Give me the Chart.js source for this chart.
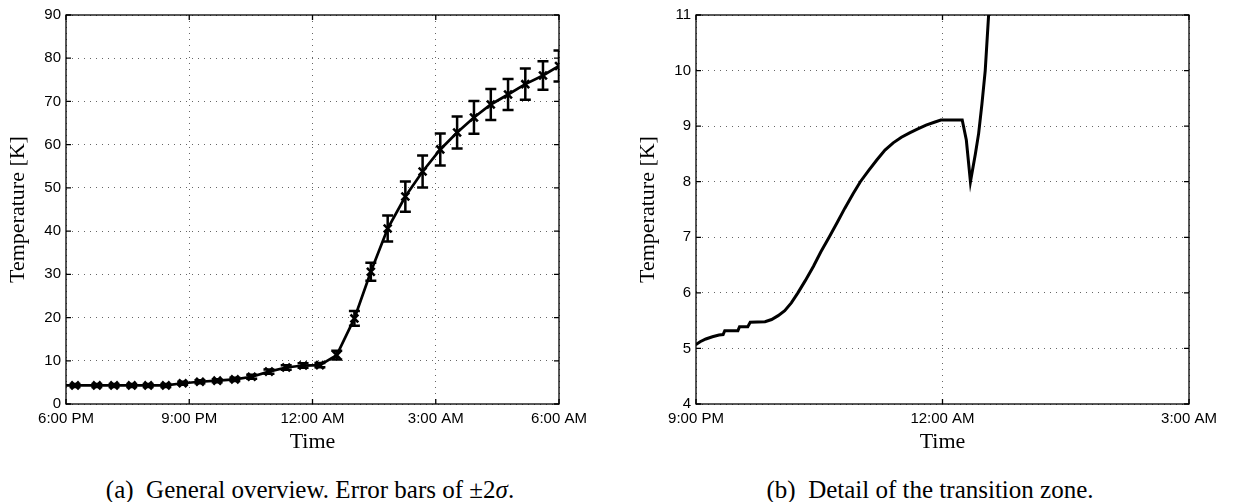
<!DOCTYPE html>
<html>
<head>
<meta charset="utf-8">
<script src="https://cdn.jsdelivr.net/npm/chart.js@4.4.1/dist/chart.umd.min.js"></script>
<style>
  html, body { margin: 0; padding: 0; background: #fff; width: 1234px; height: 502px; overflow: hidden; }
  .panel { position: absolute; top: 0; }
  .cap {
    position: absolute; top: 477px;
    font-family: "Liberation Serif", "Times New Roman", serif;
    font-size: 25px; line-height: 25px; white-space: pre; color: #000;
    transform: translateX(-50%);
  }
</style>
</head>
<body>
<canvas id="overview" class="panel" width="600" height="460" style="left:0;width:600px;height:460px"></canvas>
<canvas id="detail" class="panel" width="604" height="460" style="left:630px;width:604px;height:460px"></canvas>
<div class="cap" style="left:310px">(a)  General overview. Error bars of ±2<i>σ</i>.</div>
<div class="cap" style="left:930px">(b)  Detail of the transition zone.</div>
<script>
// ---- Overview: hours after 6:00 PM ----
const overviewTickLabels = ['6:00 PM', '9:00 PM', '12:00 AM', '3:00 AM', '6:00 AM'];
const sampleHours = [0.22, 0.75, 1.17, 1.6, 2.0, 2.43, 2.84, 3.26, 3.68, 4.11, 4.52, 4.94, 5.36, 5.77,
                     6.18, 6.59, 7.02, 7.42, 7.83, 8.26, 8.68, 9.11, 9.52, 9.93, 10.34, 10.76, 11.18, 11.61, 12.0];
const sampleTemps = [4.3, 4.3, 4.3, 4.3, 4.3, 4.3, 4.8, 5.15, 5.4, 5.7, 6.3, 7.5, 8.45, 8.9,
                     9.0, 11.3, 19.8, 30.6, 40.6, 48.0, 53.8, 58.9, 62.8, 66.3, 69.3, 71.6, 74.0, 76.0, 78.2];
// half-width of the ±2σ interval
const sampleErr   = [0.35, 0.35, 0.35, 0.35, 0.35, 0.35, 0.35, 0.35, 0.35, 0.4, 0.45, 0.5, 0.5, 0.5,
                     0.5, 1.0, 1.7, 2.1, 3.0, 3.5, 3.7, 3.7, 3.7, 3.8, 3.6, 3.6, 3.6, 3.3, 3.6];
const traceStartHour = 0;
const traceStartTemp = 4.3;

// ---- Detail: hours after 9:00 PM ----
const detailTickLabels = ['9:00 PM', '12:00 AM', '3:00 AM'];
const detailHours = [0.00, 0.05, 0.12, 0.20, 0.28, 0.33, 0.35, 0.51, 0.53, 0.63, 0.66, 0.84, 0.92, 1.00,
                     1.08, 1.16, 1.24, 1.33, 1.43, 1.52, 1.62, 1.72, 1.81, 1.91, 2.00, 2.10, 2.20, 2.30,
                     2.40, 2.50, 2.60, 2.70, 2.80, 2.90, 2.98, 3.24, 3.29, 3.34, 3.40, 3.44, 3.48, 3.52,
                     3.56, 3.58];
const detailTemps = [5.07, 5.12, 5.17, 5.21, 5.24, 5.25, 5.32, 5.32, 5.39, 5.39, 5.47, 5.48, 5.52, 5.59,
                     5.68, 5.82, 6.00, 6.22, 6.48, 6.74, 7.00, 7.27, 7.52, 7.78, 8.00, 8.20, 8.39, 8.57,
                     8.70, 8.80, 8.88, 8.95, 9.02, 9.07, 9.11, 9.11, 8.75, 8.00, 8.50, 8.87, 9.40, 10.00,
                     10.97, 11.50];

const SANS = '"Liberation Sans", Arial, Helvetica, sans-serif';
const SERIF = '"Liberation Serif", "Times New Roman", serif';

// Box around the plot area with short inward tick marks on all four sides
const frameTicks = {
  id: 'frameTicks',
  afterDraw(chart) {
    const { ctx, chartArea: a, scales: { x, y } } = chart;
    ctx.save();
    ctx.setLineDash([]);
    ctx.strokeStyle = '#000';
    ctx.lineWidth = 1.3;
    ctx.strokeRect(a.left, a.top, a.right - a.left, a.bottom - a.top);
    const len = 5;
    ctx.beginPath();
    x.ticks.forEach(t => {
      const px = x.getPixelForValue(t.value);
      ctx.moveTo(px, a.bottom); ctx.lineTo(px, a.bottom - len);
      ctx.moveTo(px, a.top); ctx.lineTo(px, a.top + len);
    });
    y.ticks.forEach(t => {
      const py = y.getPixelForValue(t.value);
      ctx.moveTo(a.left, py); ctx.lineTo(a.left + len, py);
      ctx.moveTo(a.right, py); ctx.lineTo(a.right - len, py);
    });
    ctx.stroke();
    ctx.restore();
  }
};

// Vertical error bars with caps, read from a dataset's `errors` array
const errorBars = {
  id: 'errorBars',
  afterDatasetsDraw(chart) {
    const { ctx, chartArea: a, scales: { x, y } } = chart;
    chart.data.datasets.forEach(ds => {
      if (!ds.errors) return;
      ctx.save();
      ctx.beginPath();
      ctx.rect(a.left, a.top, a.right - a.left, a.bottom - a.top);
      ctx.clip();
      ctx.setLineDash([]);
      ctx.strokeStyle = '#000';
      ctx.lineWidth = 2.5;
      const cap = 5.5;
      ds.data.forEach((p, i) => {
        const e = ds.errors[i];
        const px = x.getPixelForValue(p.x);
        const top = y.getPixelForValue(p.y + e);
        const bot = y.getPixelForValue(p.y - e);
        ctx.beginPath();
        ctx.moveTo(px, top); ctx.lineTo(px, bot);
        ctx.moveTo(px - cap, top); ctx.lineTo(px + cap, top);
        ctx.moveTo(px - cap, bot); ctx.lineTo(px + cap, bot);
        ctx.stroke();
      });
      ctx.restore();
    });
  }
};

function axes(xMax, xLabels, yMin, yMax) {
  return {
    x: {
      type: 'linear', min: 0, max: xMax,
      afterFit(s) { s.height = 56; },
      ticks: {
        stepSize: 3, autoSkip: false, maxRotation: 0, padding: 6,
        color: '#000', font: { family: SANS, size: 15 },
        callback: v => xLabels[Math.round(v / 3)]
      },
      grid: { color: 'rgba(0,0,0,0.6)', lineWidth: 1, drawTicks: false },
      border: { display: false, dash: [1, 5] },
      title: { display: true, text: 'Time', color: '#000', font: { family: SERIF, size: 22 }, padding: { top: 5, bottom: 5 } }
    },
    y: {
      min: yMin, max: yMax,
      afterFit(s) { s.width = 66; },
      ticks: { stepSize: yMax - yMin > 20 ? 10 : 1, padding: 5, color: '#000', font: { family: SANS, size: 15 } },
      grid: { color: 'rgba(0,0,0,0.6)', lineWidth: 1, drawTicks: false },
      border: { display: false, dash: [1, 5] },
      title: { display: true, text: 'Temperature [K]', color: '#000', font: { family: SERIF, size: 22 }, padding: { top: 5, bottom: 5 } }
    }
  };
}

const common = {
  responsive: false,
  animation: false,
  devicePixelRatio: 1,
  plugins: { legend: { display: false }, tooltip: { enabled: false } }
};

const samplePoints = sampleHours.map((h, i) => ({ x: h, y: sampleTemps[i] }));
const tracePoints = [{ x: traceStartHour, y: traceStartTemp }].concat(samplePoints);

new Chart(document.getElementById('overview'), {
  type: 'line',
  data: {
    datasets: [
      {
        data: tracePoints, borderColor: '#000', borderWidth: 2.7, pointRadius: 0,
        tension: 0, fill: false, clip: 0
      },
      {
        data: samplePoints, errors: sampleErr, showLine: false,
        pointStyle: 'crossRot', pointRadius: 5.5, borderColor: '#000', borderWidth: 2.6,
        backgroundColor: '#000', clip: 0
      }
    ]
  },
  options: Object.assign({}, common, {
    layout: { padding: { left: 0, right: 41, top: 15, bottom: 0 } },
    scales: axes(12, overviewTickLabels, 0, 90)
  }),
  plugins: [errorBars, frameTicks]
});

new Chart(document.getElementById('detail'), {
  type: 'line',
  data: {
    datasets: [{
      data: detailHours.map((h, i) => ({ x: h, y: detailTemps[i] })),
      borderColor: '#000', borderWidth: 3, pointRadius: 0, tension: 0, fill: false, clip: 0
    }]
  },
  options: Object.assign({}, common, {
    layout: { padding: { left: 0, right: 45, top: 15, bottom: 0 } },
    scales: axes(6, detailTickLabels, 4, 11)
  }),
  plugins: [frameTicks]
});
</script>
</body>
</html>
